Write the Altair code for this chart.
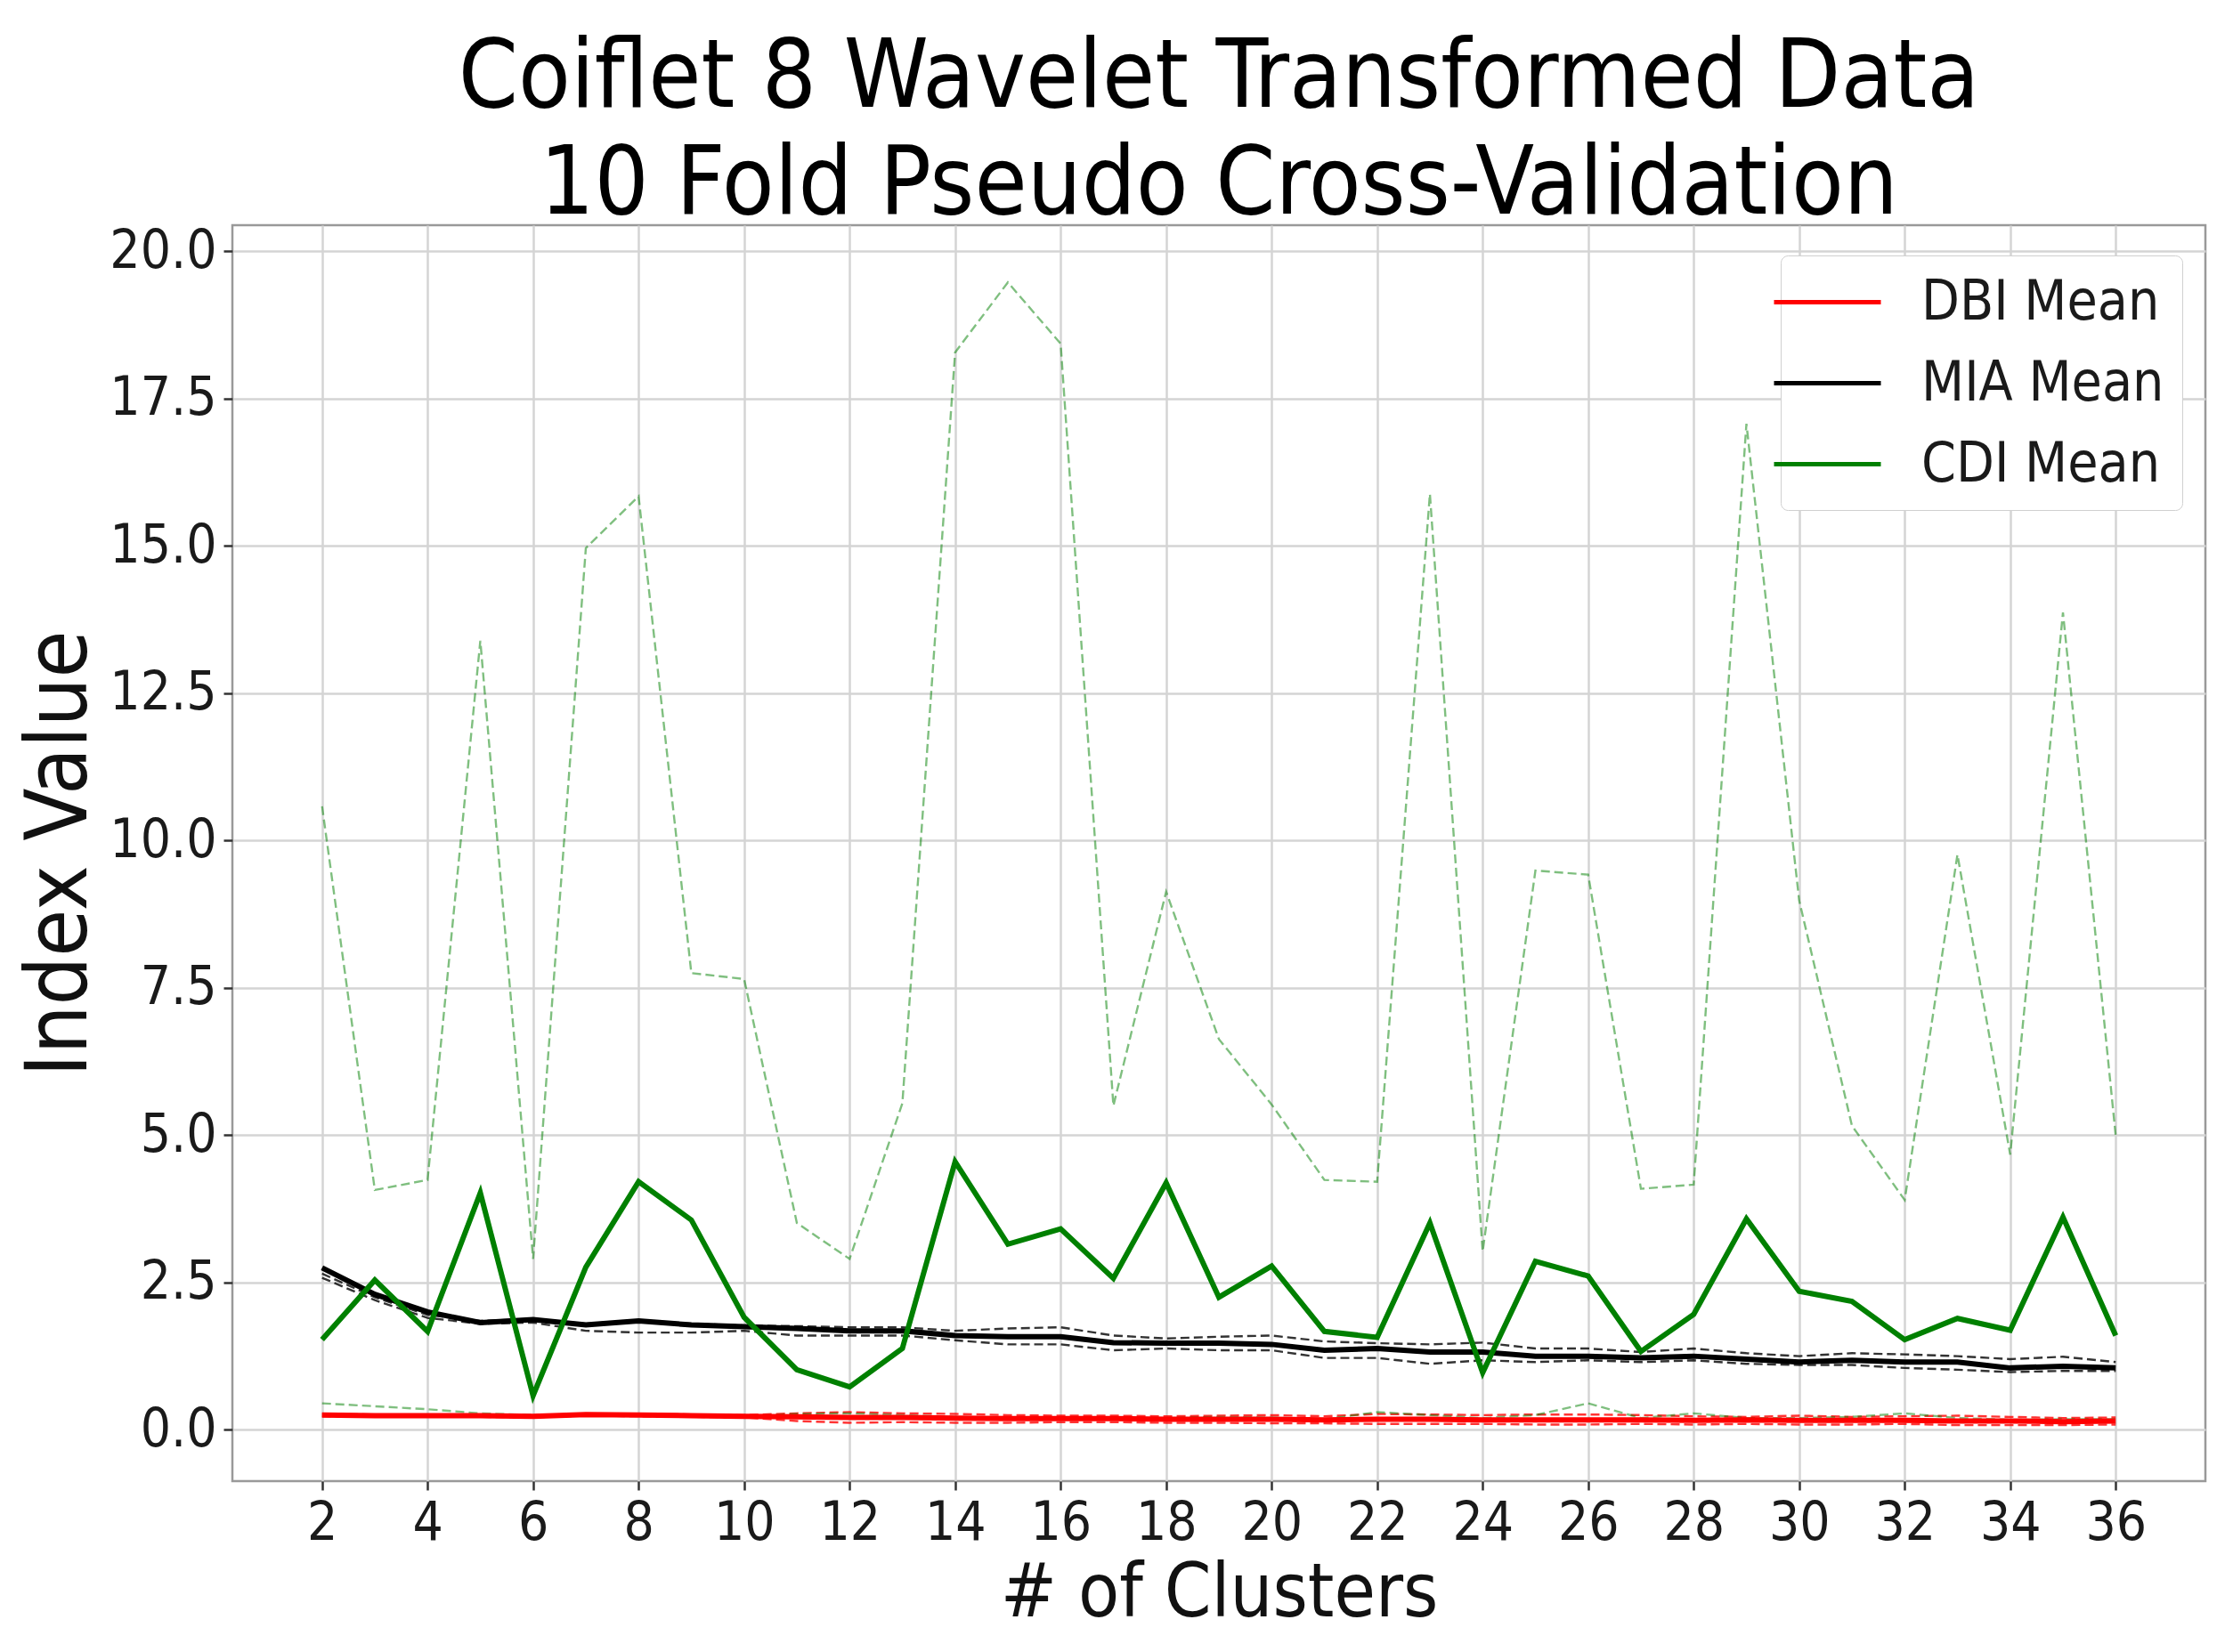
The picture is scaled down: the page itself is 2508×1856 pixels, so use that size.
import altair as alt
import pandas as pd

clusters = list(range(2, 37))

dbi_mean = [0.25, 0.24, 0.24, 0.24, 0.23, 0.26, 0.25, 0.24, 0.23, 0.22, 0.21, 0.21, 0.20, 0.19, 0.19,
            0.19, 0.18, 0.18, 0.18, 0.17, 0.18, 0.18, 0.17, 0.17, 0.17, 0.17, 0.16, 0.17, 0.16, 0.16,
            0.16, 0.15, 0.15, 0.14, 0.15]
dbi_upper = [0.27, 0.26, 0.26, 0.25, 0.25, 0.27, 0.27, 0.26, 0.25, 0.28, 0.30, 0.28, 0.27, 0.25, 0.24,
             0.24, 0.23, 0.24, 0.25, 0.23, 0.27, 0.26, 0.25, 0.26, 0.26, 0.25, 0.23, 0.22, 0.24, 0.22,
             0.23, 0.24, 0.22, 0.20, 0.21]
dbi_lower = [0.23, 0.22, 0.22, 0.22, 0.21, 0.24, 0.23, 0.22, 0.21, 0.15, 0.12, 0.13, 0.12, 0.12, 0.13,
             0.13, 0.12, 0.12, 0.11, 0.11, 0.10, 0.10, 0.10, 0.09, 0.09, 0.10, 0.09, 0.10, 0.09, 0.09,
             0.10, 0.08, 0.08, 0.08, 0.09]

mia_mean = [2.75, 2.30, 2.00, 1.82, 1.87, 1.78, 1.85, 1.78, 1.75, 1.72, 1.68, 1.68, 1.60, 1.58, 1.58,
            1.48, 1.47, 1.47, 1.45, 1.35, 1.38, 1.32, 1.32, 1.25, 1.25, 1.22, 1.25, 1.20, 1.15, 1.18,
            1.15, 1.15, 1.05, 1.08, 1.05]
mia_upper = [2.65, 2.25, 1.95, 1.85, 1.88, 1.80, 1.86, 1.80, 1.77, 1.76, 1.74, 1.74, 1.68, 1.72, 1.74,
             1.60, 1.55, 1.58, 1.60, 1.50, 1.47, 1.45, 1.48, 1.38, 1.38, 1.32, 1.38, 1.30, 1.25, 1.30,
             1.28, 1.25, 1.20, 1.24, 1.15]
mia_lower = [2.58, 2.20, 1.90, 1.80, 1.82, 1.68, 1.65, 1.65, 1.68, 1.60, 1.60, 1.60, 1.52, 1.45, 1.45,
             1.35, 1.38, 1.35, 1.35, 1.22, 1.22, 1.12, 1.18, 1.15, 1.18, 1.15, 1.18, 1.12, 1.10, 1.10,
             1.05, 1.02, 0.98, 1.00, 1.00]

cdi_mean = [1.53, 2.54, 1.67, 4.02, 0.58, 2.76, 4.21, 3.56, 1.91, 1.02, 0.73, 1.38, 4.55, 3.15, 3.41,
            2.57, 4.19, 2.25, 2.78, 1.67, 1.57, 3.51, 0.97, 2.86, 2.61, 1.33, 1.96, 3.58, 2.35, 2.18,
            1.53, 1.89, 1.69, 3.61, 1.60]
cdi_upper = [10.58, 4.07, 4.24, 13.39, 2.90, 14.96, 15.84, 7.75, 7.65, 3.51, 2.90, 5.54, 18.28, 19.47, 18.43,
             5.50, 9.13, 6.63, 5.52, 4.24, 4.21, 15.88, 3.03, 9.49, 9.42, 4.09, 4.16, 17.07, 8.98, 5.16,
             3.90, 9.76, 4.67, 13.87, 4.99]
cdi_lower = [0.45, 0.40, 0.35, 0.28, 0.25, 0.25, 0.25, 0.24, 0.23, 0.27, 0.28, 0.25, 0.22, 0.20, 0.21,
             0.20, 0.20, 0.22, 0.21, 0.18, 0.30, 0.25, 0.20, 0.25, 0.45, 0.20, 0.28, 0.20, 0.20, 0.22,
             0.28, 0.20, 0.17, 0.18, 0.18]

series_names = ["DBI Mean", "MIA Mean", "CDI Mean"]
series_colors = ["#ff0000", "#000000", "#008000"]

rows = []
for name, mean, up, lo in [("DBI Mean", dbi_mean, dbi_upper, dbi_lower),
                           ("MIA Mean", mia_mean, mia_upper, mia_lower),
                           ("CDI Mean", cdi_mean, cdi_upper, cdi_lower)]:
    for k, m, u, l in zip(clusters, mean, up, lo):
        rows.append({"k": k, "value": m, "series": name, "band": "mean"})
        rows.append({"k": k, "value": u, "series": name, "band": "upper"})
        rows.append({"k": k, "value": l, "series": name, "band": "lower"})
df = pd.DataFrame(rows)

FONT = "DejaVu Sans Condensed, DejaVu Sans"

x_enc = alt.X("k:Q", scale=alt.Scale(domain=[0.3, 37.7], nice=False, zero=False),
              axis=alt.Axis(values=list(range(2, 37, 2)), title="# of Clusters", format="d",
                            grid=True, gridColor="#d4d4d4", gridWidth=2.5,
                            tickSize=10, tickWidth=2.5, tickColor="#333333",
                            labelFontSize=60, labelColor="#1a1a1a", labelPadding=8,
                            titleFontSize=84, titleFontWeight="normal", titleColor="#111111",
                            titlePadding=8, domain=False, labelFont=FONT, titleFont=FONT))
y_enc = alt.Y("value:Q", scale=alt.Scale(domain=[-0.87, 20.44], nice=False, zero=False),
              axis=alt.Axis(values=[0, 2.5, 5, 7.5, 10, 12.5, 15, 17.5, 20], format=".1f",
                            title="Index Value", grid=True, gridColor="#d4d4d4", gridWidth=2.5,
                            tickSize=10, tickWidth=2.5, tickColor="#333333",
                            labelFontSize=60, labelColor="#1a1a1a", labelPadding=8,
                            titleFontSize=96, titleFontWeight="normal", titleColor="#111111",
                            titlePadding=6, domain=False, labelFont=FONT, titleFont=FONT))

color_scale = alt.Scale(domain=series_names, range=series_colors)
legend = alt.Legend(title=None, orient="none", legendX=1739, legendY=34,
                    symbolType="M-2,0H2", symbolSize=3600, symbolStrokeWidth=5,
                    labelFontSize=62, labelFont=FONT, labelColor="#1a1a1a", labelOffset=73,
                    labelLimit=1000,
                    padding=20, rowPadding=27, strokeColor="#d0d0d0", fillColor="#ffffff",
                    cornerRadius=8)

layers = []
dash_styles = {"DBI Mean": ("#ff0000", 0.8), "MIA Mean": ("#000000", 0.8), "CDI Mean": ("#008000", 0.5)}
for name in series_names:
    c, op = dash_styles[name]
    layers.append(
        alt.Chart(df).transform_filter(
            (alt.datum.series == name) & (alt.datum.band != "mean")
        ).mark_line(strokeDash=[10, 5], strokeWidth=2.4, color=c, opacity=op).encode(
            x=x_enc, y=y_enc, detail="band:N")
    )
for name in series_names:
    layers.append(
        alt.Chart(df).transform_filter(
            (alt.datum.series == name) & (alt.datum.band == "mean")
        ).mark_line(strokeWidth=6).encode(
            x=x_enc, y=y_enc,
            color=alt.Color("series:N", scale=color_scale, legend=legend))
    )

chart = alt.layer(*layers).properties(
    width=2216, height=1411,
    autosize=alt.AutoSizeParams(type="none"),
    padding={"left": 253, "top": 245, "right": 15, "bottom": 170},
    title=alt.TitleParams(["Coiflet 8 Wavelet Transformed Data", "10 Fold Pseudo Cross-Validation"],
                          fontSize=107, font=FONT, fontWeight="normal", color="#000000",
                          lineHeight=120, offset=-10, anchor="middle"),
).configure_view(stroke="#999999", strokeWidth=2.5)

chart.save("out.html", embed_options={"renderer": "svg", "actions": False})
